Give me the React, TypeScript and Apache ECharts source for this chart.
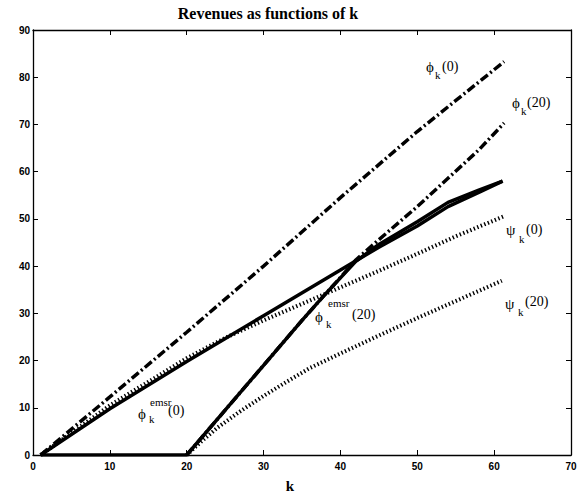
import React, { useEffect, useRef } from "react";
import * as echarts from "echarts";

// ---- data (k, revenue) ----
const xTicks = [0, 10, 20, 30, 40, 50, 60, 70];
const yTicks = [0, 10, 20, 30, 40, 50, 60, 70, 80, 90];

const phiK0 = [[1, 0], [10, 12.3], [20, 26], [30, 40], [40, 54.5], [50, 68.5], [61.3, 83.3]];
const phiK20 = [[20, 0], [25, 9.5], [30, 19], [35, 28.5], [38, 34], [40, 37.6], [42, 41.3], [45, 45.6], [50, 52.6], [54, 58.6], [58, 64.6], [61.3, 70.3]];
const phiEmsr0 = [[1, 0], [10, 9.8], [20, 19.8], [30, 29.5], [40, 39.2], [45, 44], [50, 48.5], [54, 52.6], [58, 55.6], [61.1, 58]];
const phiEmsr20 = [[1, 0], [20, 0], [25, 9.5], [30, 19], [35, 28.5], [38, 34], [40, 37.5], [42, 41], [45, 44.6], [50, 49.4], [54, 53.5], [58, 56.1], [61.1, 58]];
const psiK0 = [[1, 0], [10, 10.5], [20, 20.5], [25, 24.8], [30, 28.5], [35, 32], [40, 35.5], [45, 39], [50, 42.6], [55, 46.3], [61.2, 50.5]];
const psiK20 = [[20, 0], [22, 3], [24, 5.8], [27, 9.3], [30, 12.5], [33, 15.5], [36, 18.4], [40, 21.5], [45, 25.3], [50, 29], [55, 32.6], [61, 36.9]];

const titleText = "Revenues as functions of k";
const xName = "k";

// ---- label pieces: [text, x, y(top), fontSize] ----
const labelPieces: [string, number, number, number][] = [
  // phi_k(0)
  ["ϕ", 426, 59, 15], ["k", 435, 69, 11], ["(0)", 442, 59, 14],
  // phi_k(20)
  ["ϕ", 512, 95, 15], ["k", 521, 105, 11], ["(20)", 527, 95, 14],
  // psi_k(0)
  ["ψ", 506, 222, 15], ["k", 519, 233, 11], ["(0)", 526, 222, 14],
  // psi_k(20)
  ["ψ", 505, 296, 15], ["k", 518, 306, 11], ["(20)", 525, 294, 14],
  // phi_k^emsr(20)
  ["ϕ", 315, 309, 15], ["emsr", 328, 297, 11], ["k", 326, 318, 11], ["(20)", 352, 307, 14],
  // phi_k^emsr(0)
  ["ϕ", 138, 406, 15], ["emsr", 150, 396, 11], ["k", 149, 413, 11], ["(0)", 168, 403, 14],
];

const SERIF = "'Liberation Serif', 'DejaVu Serif', serif";
const SANS = "'Liberation Sans', Arial, sans-serif";

export default function App() {
  const ref = useRef<HTMLDivElement>(null);
  useEffect(() => {
    const chart = echarts.init(ref.current!, null, { renderer: "svg" });
    const dashDot = { color: "#000", width: 3.5, type: [9, 3, 2, 3] as any, cap: "butt" as const };
    const dotted = { color: "#000", width: 4, type: [1.4, 2.4] as any, cap: "butt" as const };
    const solid = { color: "#000", width: 3.5 };
    const mk = (data: number[][], ls: any) => ({
      type: "line",
      data,
      showSymbol: false,
      symbol: "none",
      lineStyle: ls,
      clip: true,
      silent: true,
    });
    const axisCommon = {
      type: "value" as const,
      splitLine: { show: false },
      axisLine: { show: true, onZero: false, lineStyle: { color: "#000", width: 1.3 } },
      axisTick: { show: true, inside: true, length: 5, lineStyle: { color: "#000", width: 1 } },
    };
    chart.setOption({
      animation: false,
      backgroundColor: "#fff",
      grid: { left: 33, right: 13, top: 30, bottom: 40 },
      xAxis: [
        {
          ...axisCommon,
          min: xTicks[0], max: xTicks[xTicks.length - 1], interval: 10, position: "bottom",
          axisLabel: { color: "#000", fontFamily: SANS, fontWeight: "bold", fontSize: 10, margin: 6 },
        },
        {
          ...axisCommon,
          min: xTicks[0], max: xTicks[xTicks.length - 1], interval: 10, position: "top",
          axisLabel: { show: false },
        },
      ],
      yAxis: [
        {
          ...axisCommon,
          min: yTicks[0], max: yTicks[yTicks.length - 1], interval: 10, position: "left",
          axisLabel: { color: "#000", fontFamily: SANS, fontWeight: "bold", fontSize: 10, margin: 3 },
        },
        {
          ...axisCommon,
          min: yTicks[0], max: yTicks[yTicks.length - 1], interval: 10, position: "right",
          axisLabel: { show: false },
        },
      ],
      series: [
        mk(phiK0, dashDot),
        mk(phiK20, dashDot),
        mk(psiK0, dotted),
        mk(psiK20, dotted),
        mk(phiEmsr0, solid),
        mk(phiEmsr20, solid),
      ],
      graphic: [
        {
          type: "text", x: 268, y: 5,
          style: { text: titleText, fontFamily: SERIF, fontWeight: "bold", fontSize: 16, fill: "#000", textAlign: "center", textVerticalAlign: "top" },
        },
        {
          type: "text", x: 290, y: 478,
          style: { text: xName, fontFamily: SERIF, fontWeight: "bold", fontSize: 15, fill: "#000", textAlign: "center", textVerticalAlign: "top" },
        },
        ...labelPieces.map(([t, x, y, s]) => ({
          type: "text", x, y,
          style: { text: t, fontFamily: SERIF, fontSize: s, fill: "#000", textAlign: "left", textVerticalAlign: "top" },
        })),
      ],
    });
    return () => chart.dispose();
  }, []);
  return <div ref={ref} style={{ position: "fixed", left: 0, top: 0, width: 584, height: 495, background: "#fff" }} />;
}
